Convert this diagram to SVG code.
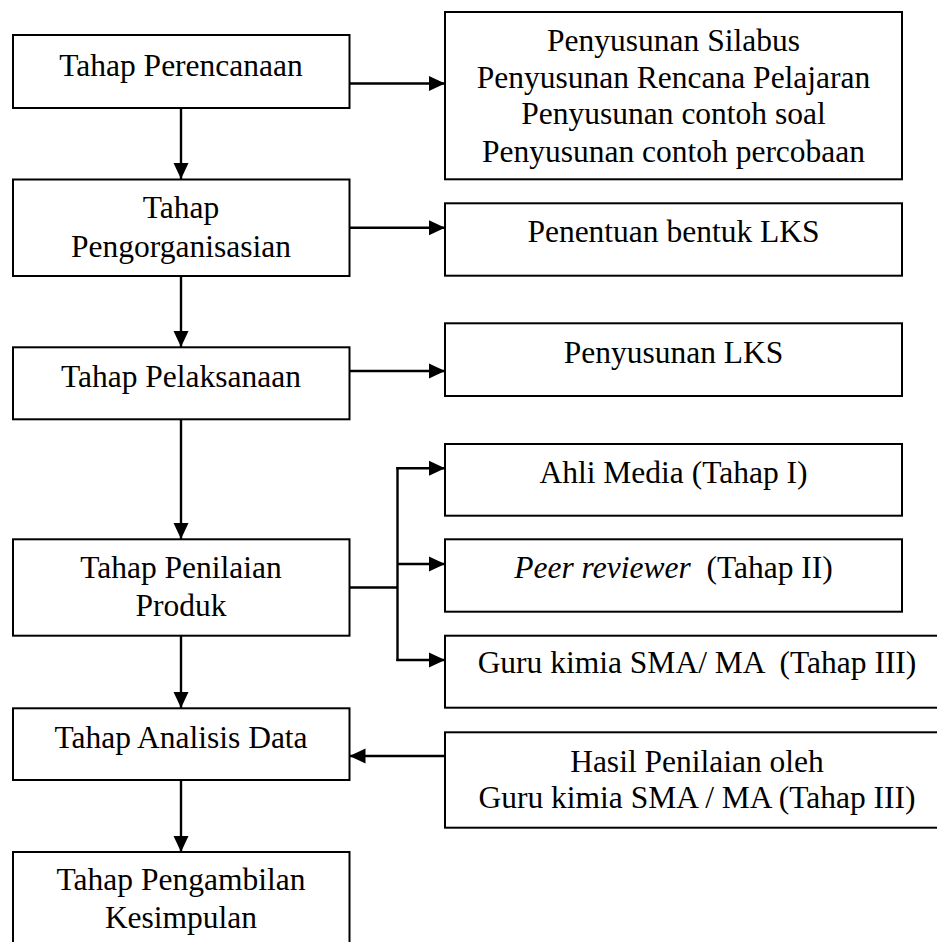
<svg xmlns="http://www.w3.org/2000/svg" width="937" height="942" viewBox="0 0 937 942">
<style>
.box{fill:#fff;stroke:#000;stroke-width:2}
.t{font-family:"Liberation Serif","Times New Roman",serif;font-size:31.5px;fill:#000;text-anchor:middle;white-space:pre}
.c{fill:none;stroke:#000;stroke-width:2.4}
</style>
<defs>
<marker id="ah" markerUnits="userSpaceOnUse" markerWidth="17" markerHeight="16" refX="16" refY="8" orient="auto">
<path d="M0,0.5 L16,8 L0,15.5 Z" fill="#000"/>
</marker>
</defs>
<rect width="937" height="942" fill="#fff"/>
<g id="connectors">
<line class="c" x1="181" y1="108" x2="181" y2="179" marker-end="url(#ah)"/>
<line class="c" x1="181" y1="276" x2="181" y2="347" marker-end="url(#ah)"/>
<line class="c" x1="181" y1="419" x2="181" y2="539" marker-end="url(#ah)"/>
<line class="c" x1="181" y1="636" x2="181" y2="708" marker-end="url(#ah)"/>
<line class="c" x1="181" y1="780" x2="181" y2="852" marker-end="url(#ah)"/>
<line class="c" x1="349.5" y1="83.5" x2="445" y2="83.5" marker-end="url(#ah)"/>
<line class="c" x1="349.5" y1="227.7" x2="445" y2="227.7" marker-end="url(#ah)"/>
<line class="c" x1="349.5" y1="371" x2="445" y2="371" marker-end="url(#ah)"/>
<polyline class="c" points="349.5,587.5 397.5,587.5"/>
<line class="c" x1="397.5" y1="467" x2="397.5" y2="661"/>
<line class="c" x1="396.3" y1="468.3" x2="445" y2="468.3" marker-end="url(#ah)"/>
<line class="c" x1="397.5" y1="564" x2="445" y2="564" marker-end="url(#ah)"/>
<line class="c" x1="396.3" y1="660" x2="445" y2="660" marker-end="url(#ah)"/>
<line class="c" x1="445" y1="756" x2="349.5" y2="756" marker-end="url(#ah)"/>
</g>
<g id="n-perencanaan"><rect class="box" x="13" y="35" width="336.5" height="73"/><text class="t" x="181" y="76">Tahap Perencanaan</text></g>
<g id="n-pengorganisasian"><rect class="box" x="13" y="179.5" width="336.5" height="96.5"/><text class="t" x="181" y="218.3">Tahap</text><text class="t" x="181" y="256.7">Pengorganisasian</text></g>
<g id="n-pelaksanaan"><rect class="box" x="13" y="347.3" width="336.5" height="72"/><text class="t" x="181" y="387.3">Tahap Pelaksanaan</text></g>
<g id="n-penilaian"><rect class="box" x="13" y="539.3" width="336.5" height="96.4"/><text class="t" x="181" y="578.3">Tahap Penilaian</text><text class="t" x="181" y="616">Produk</text></g>
<g id="n-analisis"><rect class="box" x="13" y="708.3" width="336.5" height="71.7"/><text class="t" x="181" y="747.7">Tahap Analisis Data</text></g>
<g id="n-kesimpulan"><rect class="box" x="13" y="852" width="336.5" height="100"/><text class="t" x="181" y="890">Tahap Pengambilan</text><text class="t" x="181" y="928.3">Kesimpulan</text></g>
<g id="n-penyusunan"><rect class="box" x="445" y="12" width="457" height="167.3"/>
<text class="t" x="673.5" y="50.7">Penyusunan Silabus</text>
<text class="t" x="673.5" y="87.7">Penyusunan Rencana Pelajaran</text>
<text class="t" x="673.5" y="124.3">Penyusunan contoh soal</text>
<text class="t" x="673.5" y="161.7">Penyusunan contoh percobaan</text></g>
<g id="n-bentuk"><rect class="box" x="445" y="203.3" width="457" height="72.4"/><text class="t" x="673.5" y="241.7">Penentuan bentuk LKS</text></g>
<g id="n-lks"><rect class="box" x="445" y="323.3" width="457" height="72.7"/><text class="t" x="673.5" y="363.3">Penyusunan LKS</text></g>
<g id="n-ahli"><rect class="box" x="445" y="444" width="457" height="71.7"/><text class="t" x="673.5" y="482.7">Ahli Media (Tahap I)</text></g>
<g id="n-peer"><rect class="box" x="445" y="539.3" width="457" height="72.4"/><text class="t" x="673.5" y="578.3"><tspan font-style="italic">Peer reviewer</tspan>  (Tahap II)</text></g>
<g id="n-guru"><rect class="box" x="445" y="635.7" width="505" height="72"/><text class="t" x="697" y="673.3">Guru kimia SMA/ MA  (Tahap III)</text></g>
<g id="n-hasil"><rect class="box" x="445" y="732.3" width="505" height="95.4"/><text class="t" x="697" y="771.7">Hasil Penilaian oleh</text><text class="t" x="697" y="807.7">Guru kimia SMA / MA (Tahap III)</text></g>
</svg>
